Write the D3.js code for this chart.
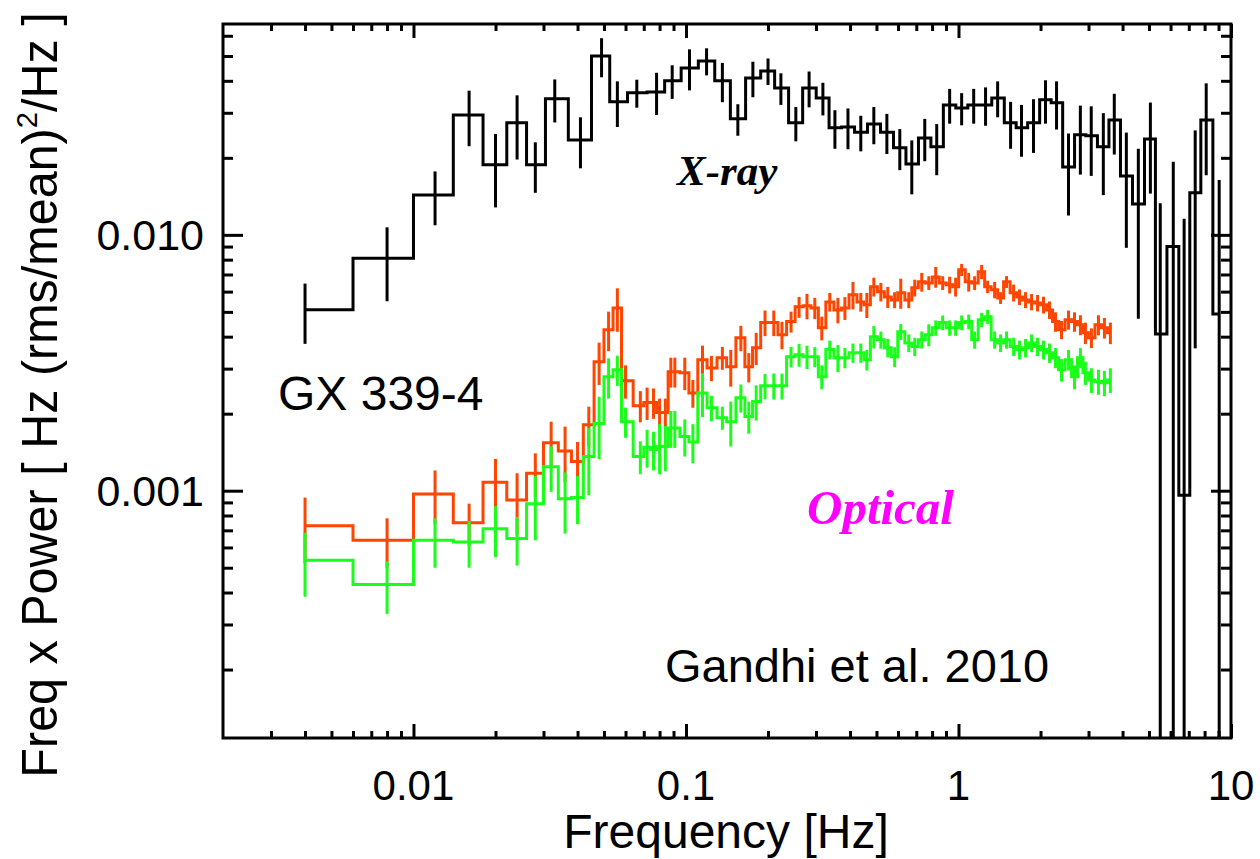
<!DOCTYPE html>
<html>
<head>
<meta charset="utf-8">
<script src="https://cdnjs.cloudflare.com/ajax/libs/d3/7.8.5/d3.min.js"></script>
<style>
    body { margin: 0; background: #fff; }
    svg text { font-family: "Liberation Sans", Arial, Helvetica, sans-serif; fill: #000; }
</style>
</head>
<body>
<div id="chart"></div>
<script>

// X-ray power spectrum (black)
var xrayFreq = [0.004, 0.008, 0.012, 0.016, 0.020, 0.024, 0.028, 0.033, 0.041, 0.049, 0.056, 0.066,
    0.078, 0.089, 0.103, 0.119, 0.136, 0.155, 0.176, 0.200, 0.223, 0.253, 0.283, 0.318, 0.352, 0.393,
    0.438, 0.489, 0.546, 0.609, 0.674, 0.752, 0.832, 0.928, 1.027, 1.137, 1.257, 1.392, 1.553, 1.703,
    1.885, 2.086, 2.29, 2.533, 2.80, 3.07, 3.40, 3.73, 4.13, 4.57, 5.06, 5.5, 6.14, 6.73, 7.39, 8.11, 9.05];
var xrayPower = [0.0051, 0.0081, 0.0143, 0.0294, 0.0188, 0.0274, 0.0188, 0.034, 0.0235, 0.050, 0.0331, 0.0359,
    0.0362, 0.040, 0.0449, 0.0478, 0.040, 0.0284, 0.041, 0.0437, 0.0375, 0.0274, 0.0375, 0.0343, 0.0262, 0.0264,
    0.0252, 0.0271, 0.0252, 0.0219, 0.0189, 0.0239, 0.0221, 0.0322, 0.0313, 0.0322, 0.0322, 0.0343, 0.0274, 0.0262,
    0.0274, 0.0337, 0.0328, 0.0184, 0.0246, 0.0244, 0.0221, 0.0281, 0.017, 0.0132, 0.0237, 0.0041, 0.0090, 0.00096,
    0.0146, 0.0281, 0.0049];
var xrayErr = [0.00135, 0.0026, 0.0034, 0.0072, 0.006, 0.0077, 0.0042, 0.0065, 0.0053, 0.0087, 0.0067, 0.0045,
    0.0068, 0.006, 0.0082, 0.0058, 0.007, 0.004, 0.0065, 0.0052, 0.0053, 0.0042, 0.006, 0.005, 0.0045, 0.0048,
    0.004, 0.0045, 0.0045, 0.004, 0.0045, 0.0045, 0.005, 0.005, 0.0045, 0.005, 0.0055, 0.0055, 0.0057, 0.006,
    0.0065, 0.0065, 0.007, 0.0065, 0.0074, 0.0074, 0.0078, 0.0075, 0.0081, 0.0085, 0.0092, 0.0092, 0.0103, 0.0106,
    0.011, 0.011, 0.0115];

// optical power spectra (two filters share the frequency bins)
var optFreq = [0.004, 0.008, 0.012, 0.016, 0.020, 0.024, 0.028, 0.032, 0.036, 0.040, 0.044, 0.048, 0.052, 0.056,
    0.060, 0.068, 0.072, 0.076, 0.080, 0.084, 0.088, 0.091, 0.099, 0.106, 0.115, 0.124, 0.136, 0.146, 0.159, 0.170,
    0.181, 0.195, 0.210, 0.225, 0.243, 0.260, 0.278, 0.297, 0.315, 0.337, 0.361, 0.383, 0.410, 0.438, 0.461, 0.489,
    0.519, 0.550, 0.583, 0.614, 0.657, 0.691, 0.733, 0.778, 0.825, 0.875, 0.928, 0.976, 1.027, 1.090, 1.146, 1.216,
    1.279, 1.357, 1.427, 1.501, 1.593, 1.675, 1.762, 1.854, 1.950, 2.051, 2.158, 2.270, 2.388, 2.534, 2.665, 2.802,
    2.923, 3.075, 3.263, 3.432, 3.609];
var optRedPower = [0.00073, 0.00064, 0.00097, 0.00075, 0.00108, 0.00092, 0.00117, 0.00154, 0.00143, 0.00130,
    0.00181, 0.00319, 0.00426, 0.00518, 0.00269, 0.00215, 0.00221, 0.00221, 0.00202, 0.00202, 0.00292, 0.00292,
    0.00289, 0.00241, 0.00325, 0.00302, 0.00331, 0.00305, 0.00396, 0.00305, 0.00362, 0.00454, 0.00454, 0.00407,
    0.00458, 0.00523, 0.00528, 0.00518, 0.00433, 0.00547, 0.00509, 0.00518, 0.00583, 0.00547, 0.00533, 0.00627,
    0.00599, 0.00572, 0.00557, 0.00594, 0.00557, 0.00621, 0.00655, 0.00649, 0.00685, 0.00649, 0.00638, 0.00627,
    0.00730, 0.00655, 0.00649, 0.00717, 0.00627, 0.00610, 0.00567, 0.00655, 0.00594, 0.00572, 0.00557, 0.00547,
    0.00542, 0.00533, 0.00509, 0.00458, 0.00426, 0.00466, 0.00458, 0.00445, 0.00414, 0.00396, 0.00445, 0.00433,
    0.00414];
var optRedErr = [0.00021, 0.00014, 0.00023, 0.00014, 0.00025, 0.00025, 0.00023, 0.00032, 0.00035, 0.00025,
    0.00032, 0.0006, 0.00075, 0.001, 0.0004, 0.0003, 0.00032, 0.0003, 0.00027, 0.00027, 0.00039, 0.00039,
    0.00042, 0.0003, 0.00044, 0.00034, 0.00034, 0.0005, 0.00045, 0.0004, 0.00052, 0.00052, 0.00052, 0.0005,
    0.00043, 0.00049, 0.0006, 0.00049, 0.00046, 0.00046, 0.00058, 0.00053, 0.00072, 0.00046, 0.0006, 0.00053,
    0.0005, 0.00054, 0.0004, 0.0008, 0.0004, 0.00047, 0.00055, 0.0004, 0.00064, 0.0004, 0.00048, 0.00053,
    0.0004, 0.00055, 0.0004, 0.00046, 0.00035, 0.00045, 0.0003, 0.00035, 0.00045, 0.0004, 0.0004, 0.0004,
    0.0004, 0.0004, 0.0004, 0.0004, 0.00035, 0.0004, 0.0004, 0.0004, 0.0004, 0.00035, 0.0004, 0.0004, 0.0004];
var optGreenPower = [0.000535, 0.00043, 0.00064, 0.00063, 0.00071, 0.00065, 0.00089, 0.00124, 0.00093, 0.00094,
    0.00136, 0.00183, 0.00279, 0.00297, 0.00186, 0.00136, 0.00148, 0.00145, 0.00149, 0.00149, 0.00176, 0.00176,
    0.00163, 0.00155, 0.00241, 0.00211, 0.00193, 0.00186, 0.00231, 0.00195, 0.00223, 0.00257, 0.00257, 0.00257,
    0.00334, 0.00340, 0.00334, 0.00334, 0.00279, 0.00356, 0.00331, 0.00331, 0.00346, 0.00346, 0.00325, 0.00400,
    0.00389, 0.00362, 0.00334, 0.00418, 0.00378, 0.00366, 0.00389, 0.00407, 0.00433, 0.00454, 0.00433, 0.00433,
    0.00454, 0.00458, 0.00389, 0.00466, 0.00479, 0.00389, 0.00378, 0.00389, 0.00366, 0.00356, 0.00362, 0.00378,
    0.00366, 0.00356, 0.00346, 0.00331, 0.00297, 0.00325, 0.00279, 0.00331, 0.00289, 0.00271, 0.00267, 0.00264,
    0.00271];
var optGreenErr = [0.00015, 0.0001, 0.00014, 0.00013, 0.00016, 0.00014, 0.00025, 0.00025, 0.00025, 0.0002,
    0.0004, 0.0005, 0.0005, 0.0004, 0.00025, 0.0002, 0.00025, 0.00025, 0.00033, 0.0003, 0.00029, 0.00029,
    0.00027, 0.00027, 0.00047, 0.00024, 0.0002, 0.00037, 0.00029, 0.00028, 0.00035, 0.00029, 0.0003, 0.0003,
    0.00031, 0.00035, 0.00035, 0.0003, 0.0003, 0.0003, 0.0004, 0.0003, 0.0003, 0.0003, 0.0003, 0.0004,
    0.0003, 0.0003, 0.0003, 0.0003, 0.0003, 0.0003, 0.0003, 0.0004, 0.0003, 0.0003, 0.0003, 0.0003,
    0.0003, 0.0003, 0.0003, 0.0003, 0.0003, 0.0003, 0.0003, 0.0003, 0.0003, 0.0003, 0.0003, 0.0003,
    0.0003, 0.0003, 0.0003, 0.0003, 0.0003, 0.0003, 0.0003, 0.0003, 0.0003, 0.0003, 0.0003, 0.0003, 0.0003];

// axes
var xDomain = [0.002, 10];
var yDomain = [0.000108, 0.0667];
var xTickValues = [0.01, 0.1, 1, 10];
var xTickLabels = ["0.01", "0.1", "1", "10"];
var yTickValues = [0.001, 0.01];
var yTickLabels = ["0.001", "0.010"];


SpectrumPlot = function(_parentElement) {
    this.parentElement = _parentElement;
    this.initVis();
};

SpectrumPlot.prototype.initVis = function() {
    var vis = this;

    vis.box = {left: 223, right: 1231, top: 24, bottom: 738};

    vis.svg = d3.select("#" + vis.parentElement).append("svg")
        .attr("width", 1260)
        .attr("height", 859);

    vis.x = d3.scaleLog().domain(xDomain).range([vis.box.left, vis.box.right]);
    vis.y = d3.scaleLog().domain(yDomain).range([vis.box.bottom, vis.box.top]);

    vis.svg.append("clipPath").attr("id", "plotclip")
        .append("rect")
        .attr("x", vis.box.left).attr("y", vis.box.top)
        .attr("width", vis.box.right - vis.box.left)
        .attr("height", vis.box.bottom - vis.box.top);

    // minor tick positions 2..9 in every decade that is on the axis
    function minors(domain) {
        var out = [];
        for (var e = -5; e <= 1; e++) {
            for (var m = 2; m <= 9; m++) {
                var v = m * Math.pow(10, e);
                if (v > domain[0] * 1.01 && v < domain[1] * 0.99) out.push(v);
            }
        }
        return out;
    }
    vis.xMinor = minors(xDomain);
    vis.yMinor = minors(yDomain);

    vis.drawAxes();
    vis.updateVis();
    vis.drawLabels();
};

SpectrumPlot.prototype.drawAxes = function() {
    var vis = this;

    function styleAxis(g) {
        g.select(".domain").remove();
        g.selectAll(".tick line").attr("stroke", "#000").attr("stroke-width", 3);
        g.selectAll(".tick text").remove();
    }

    // ticks all point into the plot
    vis.svg.append("g").attr("transform", "translate(0," + vis.box.bottom + ")")
        .call(d3.axisBottom(vis.x).tickValues(xTickValues).tickSize(-14)).call(styleAxis);
    vis.svg.append("g").attr("transform", "translate(0," + vis.box.bottom + ")")
        .call(d3.axisBottom(vis.x).tickValues(vis.xMinor).tickSize(-7)).call(styleAxis);
    vis.svg.append("g").attr("transform", "translate(0," + vis.box.top + ")")
        .call(d3.axisTop(vis.x).tickValues(xTickValues).tickSize(-14)).call(styleAxis);
    vis.svg.append("g").attr("transform", "translate(0," + vis.box.top + ")")
        .call(d3.axisTop(vis.x).tickValues(vis.xMinor).tickSize(-7)).call(styleAxis);

    vis.svg.append("g").attr("transform", "translate(" + vis.box.left + ",0)")
        .call(d3.axisLeft(vis.y).tickValues(yTickValues).tickSize(-20)).call(styleAxis);
    vis.svg.append("g").attr("transform", "translate(" + vis.box.left + ",0)")
        .call(d3.axisLeft(vis.y).tickValues(vis.yMinor).tickSize(-10)).call(styleAxis);
    vis.svg.append("g").attr("transform", "translate(" + vis.box.right + ",0)")
        .call(d3.axisRight(vis.y).tickValues(yTickValues).tickSize(-20)).call(styleAxis);
    vis.svg.append("g").attr("transform", "translate(" + vis.box.right + ",0)")
        .call(d3.axisRight(vis.y).tickValues(vis.yMinor).tickSize(-10)).call(styleAxis);

    vis.svg.append("rect")
        .attr("x", vis.box.left).attr("y", vis.box.top)
        .attr("width", vis.box.right - vis.box.left)
        .attr("height", vis.box.bottom - vis.box.top)
        .attr("fill", "none").attr("stroke", "#000").attr("stroke-width", 3);

    // tick labels
    vis.svg.selectAll(".xlab")
        .data(xTickValues)
        .enter().append("text")
        .attr("class", "xlab")
        .attr("x", function(d) { return vis.x(d); })
        .attr("y", 800)
        .attr("text-anchor", "middle")
        .style("font-size", "42px")
        .text(function(d, i) { return xTickLabels[i]; });

    vis.svg.selectAll(".ylab")
        .data(yTickValues)
        .enter().append("text")
        .attr("class", "ylab")
        .attr("x", 204)
        .attr("y", function(d) { return vis.y(d) + 15; })
        .attr("text-anchor", "end")
        .style("font-size", "43px")
        .text(function(d, i) { return yTickLabels[i]; });
};

SpectrumPlot.prototype.updateVis = function() {
    var vis = this;

    var plot = vis.svg.append("g").attr("clip-path", "url(#plotclip)");

    // histogram style: steps at the linear midpoints between bins
    function stepPath(freq, power) {
        var p = "M" + vis.x(freq[0]) + "," + vis.y(power[0]);
        for (var i = 1; i < freq.length; i++) {
            var edge = vis.x((freq[i - 1] + freq[i]) / 2);
            p += "H" + edge + "V" + vis.y(power[i]);
        }
        p += "H" + vis.x(freq[freq.length - 1]);
        return p;
    }

    function drawSeries(freq, power, err, colour) {
        var g = plot.append("g");
        g.selectAll("line")
            .data(freq)
            .enter().append("line")
            .attr("x1", function(d) { return vis.x(d); })
            .attr("x2", function(d) { return vis.x(d); })
            .attr("y1", function(d, i) { return vis.y(power[i] + err[i]); })
            .attr("y2", function(d, i) {
                var lo = power[i] - err[i];
                return lo > yDomain[0] ? vis.y(lo) : vis.box.bottom + 5;
            })
            .attr("stroke", colour)
            .attr("stroke-width", 3);
        g.append("path")
            .attr("d", stepPath(freq, power))
            .attr("fill", "none")
            .attr("stroke", colour)
            .attr("stroke-width", 3);
    }

    drawSeries(xrayFreq, xrayPower, xrayErr, "#000");
    drawSeries(optFreq, optRedPower, optRedErr, "#ff4500");
    drawSeries(optFreq, optGreenPower, optGreenErr, "#1aff1a");
};

SpectrumPlot.prototype.drawLabels = function() {
    var vis = this;

    vis.svg.append("text")
        .attr("x", 726).attr("y", 848)
        .attr("text-anchor", "middle")
        .style("font-size", "48px")
        .text("Frequency [Hz]");

    var ylab = vis.svg.append("text")
        .attr("transform", "translate(57,395) rotate(-90) scale(0.97,1)")
        .attr("text-anchor", "middle")
        .style("font-size", "50px");
    ylab.append("tspan").text("Freq x Power [ Hz (rms/mean)");
    ylab.append("tspan").attr("dy", -20).style("font-size", "30px").text("2");
    ylab.append("tspan").attr("dy", 20).text("/Hz ]");

    vis.svg.append("text")
        .attr("x", 278).attr("y", 410)
        .style("font-size", "48px")
        .text("GX 339-4");

    vis.svg.append("text")
        .attr("x", 665).attr("y", 682)
        .style("font-size", "47px")
        .text("Gandhi et al. 2010");

    vis.svg.append("text")
        .attr("x", 677).attr("y", 185)
        .style("font-family", "'Liberation Serif', 'Times New Roman', serif")
        .style("font-weight", "bold").style("font-style", "italic")
        .style("font-size", "43px")
        .text("X-ray");

    vis.svg.append("text")
        .attr("x", 807).attr("y", 524)
        .style("font-family", "'Liberation Serif', 'Times New Roman', serif")
        .style("font-weight", "bold").style("font-style", "italic")
        .style("font-size", "49px")
        .style("fill", "#ff00ff")
        .text("Optical");
};

var plot = new SpectrumPlot("chart");

</script>
</body>
</html>
